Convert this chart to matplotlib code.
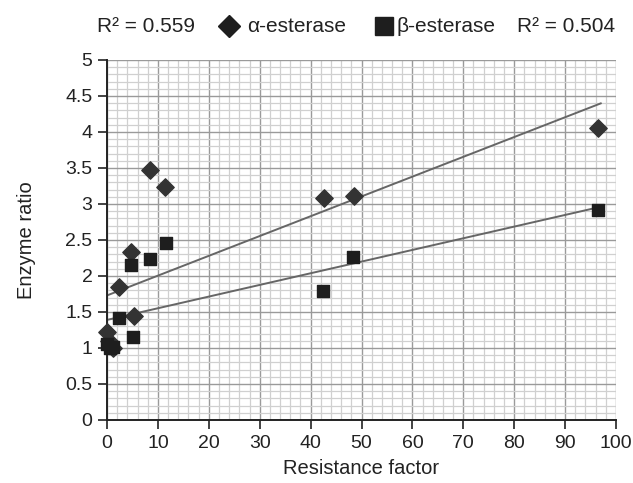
import numpy as np
import matplotlib
matplotlib.use("Agg")
import matplotlib.pyplot as plt
from matplotlib.ticker import MultipleLocator
from matplotlib.lines import Line2D

plt.rcParams["font.family"] = ["Liberation Sans", "DejaVu Sans"]

# values
alpha_x = [0.0, 0.3, 1.2, 2.3, 4.7, 5.3, 8.4, 11.4, 42.7, 48.5, 96.5]
alpha_y = [1.22, 1.10, 1.00, 1.85, 2.33, 1.44, 3.47, 3.23, 3.08, 3.11, 4.06]
beta_x = [0.0, 0.6, 1.2, 2.3, 4.7, 5.1, 8.4, 11.5, 42.5, 48.3, 96.5]
beta_y = [1.05, 1.00, 1.02, 1.42, 2.15, 1.15, 2.24, 2.46, 1.79, 2.26, 2.91]

# trend lines (intercept, slope) and R² values as printed
alpha_fit = (1.73, 0.0275)
beta_fit = (1.39, 0.0162)
alpha_r2 = 0.559
beta_r2 = 0.504
fit_xmax = 97

ink = "#222222"
W, H = 633, 483
fig = plt.figure(figsize=(W / 100, H / 100), dpi=100)
ax = fig.add_axes([107 / W, 63 / H, 509 / W, 360 / H])

ax.set_xlim(0, 100)
ax.set_ylim(0, 5)
ax.xaxis.set_major_locator(MultipleLocator(10))
ax.xaxis.set_minor_locator(MultipleLocator(2))
ax.yaxis.set_major_locator(MultipleLocator(0.5))
ax.yaxis.set_minor_locator(MultipleLocator(0.1))
ax.yaxis.set_major_formatter(plt.FuncFormatter(lambda v, p: f"{v:g}"))
ax.grid(which="minor", color="#d0d0d0", lw=0.9)
ax.grid(which="major", color="#9a9a9a", lw=1.0)
ax.set_axisbelow(True)
ax.tick_params(which="minor", length=0)
ax.tick_params(which="major", length=6.5, width=1.2, labelsize=14, color=ink,
               labelcolor=ink, direction="out", pad=4)
for s in ["top", "right"]:
    ax.spines[s].set_visible(False)
for s in ["left", "bottom"]:
    ax.spines[s].set_linewidth(1.4)
    ax.spines[s].set_color(ink)

xs = np.array([0, fit_xmax])
ax.plot(xs, alpha_fit[0] + alpha_fit[1] * xs, color="#666666", lw=1.4, zorder=2)
ax.plot(xs, beta_fit[0] + beta_fit[1] * xs, color="#666666", lw=1.4, zorder=2)

ax.scatter(alpha_x, alpha_y, marker="D", s=78, color="#333333", zorder=3, clip_on=False)
ax.scatter(beta_x, beta_y, marker="s", s=85, color="#1e1e1e", zorder=3, clip_on=False)

ax.set_xlabel("Resistance factor", fontsize=14.5, color=ink, labelpad=5)
ax.set_ylabel("Enzyme ratio", fontsize=14.5, color=ink, labelpad=21)

# header legend, placed piece by piece
hy = 1 - 26 / H
fig.text(97 / W, hy, f"R² = {alpha_r2:.3f}", fontsize=15, color=ink, ha="left", va="center")
fig.add_artist(Line2D([229 / W], [hy], marker="D", ls="none", color="#1e1e1e", markersize=11.7,
                      transform=fig.transFigure))
fig.text(247 / W, hy, "α-esterase", fontsize=15, color=ink, ha="left", va="center")
fig.add_artist(Line2D([384 / W], [hy], marker="s", ls="none", color="#1e1e1e", markersize=13,
                      transform=fig.transFigure))
fig.text(397 / W, hy, "β-esterase", fontsize=15, color=ink, ha="left", va="center")
fig.text(517 / W, hy, f"R² = {beta_r2:.3f}", fontsize=15, color=ink, ha="left", va="center")

fig.savefig("out.png", dpi=100)
